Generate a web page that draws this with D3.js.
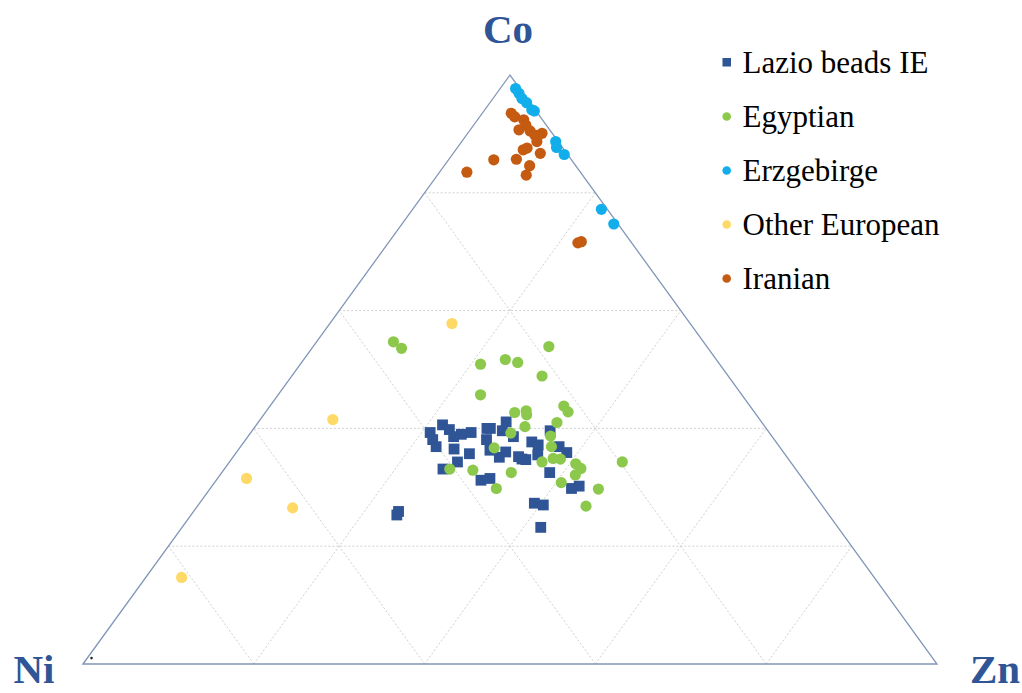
<!DOCTYPE html>
<html>
<head>
<meta charset="utf-8">
<script src="https://cdn.jsdelivr.net/npm/d3@7"></script>
<style>
  html, body { margin: 0; padding: 0; background: #ffffff; }
  svg { display: block; }
</style>
</head>
<body>
<svg id="chart" width="1022" height="693"></svg>
<script>
// ---- Data: ternary compositions in percent (Ni = 100 - Co - Zn) ----
const categories = ["Lazio beads IE", "Egyptian", "Erzgebirge", "Other European", "Iranian"];
const axisLabels = ["Co", "Ni", "Zn"];
const gridTicks = [20, 40, 60, 80];

const lazioCo = [39.3, 38.1, 36.9, 40.6, 39.8, 38.6, 39.0, 39.3, 36.5, 35.7, 34.3, 33.1, 40.0, 40.0, 38.1, 36.3, 41.1, 39.6, 38.6, 36.0, 35.1, 31.2, 31.5, 35.2, 34.8, 34.7, 37.7, 37.2, 35.5, 39.6, 36.9, 35.9, 32.5, 29.8, 30.2, 27.3, 27.0, 23.2, 25.9, 25.3];
const lazioZn = [21.0, 21.9, 22.9, 21.8, 23.0, 24.1, 24.8, 25.8, 25.2, 27.4, 26.7, 25.6, 27.3, 27.7, 28.2, 29.5, 29.0, 29.3, 31.1, 31.5, 31.2, 31.0, 31.9, 33.4, 34.0, 34.5, 33.7, 34.7, 35.5, 34.9, 37.3, 38.7, 38.4, 42.3, 43.0, 39.2, 40.4, 42.0, 24.0, 24.1];

const egyptCo = [54.7, 53.6, 53.9, 50.9, 51.7, 51.2, 48.9, 45.7, 42.7, 43.0, 42.3, 43.8, 42.8, 40.3, 41.0, 39.2, 38.7, 36.7, 36.9, 34.9, 34.8, 34.3, 34.0, 33.2, 32.1, 34.3, 33.1, 32.9, 32.5, 30.8, 29.7, 29.8, 26.8];
const egyptZn = [9.0, 10.5, 27.6, 21.1, 23.6, 25.3, 29.3, 23.7, 29.2, 30.4, 30.8, 34.4, 35.4, 31.6, 35.0, 30.5, 35.4, 29.8, 36.4, 37.6, 38.5, 36.6, 40.7, 41.7, 41.6, 46.0, 26.4, 29.2, 33.9, 40.6, 45.5, 33.5, 45.5];

const erzCo = [97.7, 96.9, 96.0, 95.3, 94.1, 93.9, 88.7, 87.7, 86.5, 77.2, 74.7];
const erzZn = [1.8, 2.6, 3.4, 4.3, 5.5, 5.9, 11.0, 11.6, 13.1, 22.1, 24.8];

const otherCo = [57.8, 41.5, 31.5, 26.5, 14.7];
const otherZn = [14.3, 8.5, 3.4, 11.3, 4.2];

const iranCo = [93.5, 92.9, 92.4, 91.5, 90.7, 90.5, 89.8, 90.1, 88.7, 87.3, 87.6, 86.7, 85.6, 85.7, 84.6, 83.0, 83.5, 71.5, 71.7];
const iranZn = [3.4, 4.1, 5.4, 6.1, 5.7, 7.1, 8.0, 8.7, 8.8, 7.9, 8.2, 10.2, 5.3, 7.9, 10.0, 10.4, 3.2, 22.2, 22.5];

// tiny marker near the Ni corner
const cornerCo = [1.0];
const cornerZn = [0.5];

// ---- Styles ----
const colors = ["#2F5597", "#8CC84B", "#12AEEB", "#FFD966", "#C55A11"];
const labelColor = "#2F5597";

const svg = d3.select("#chart");

// Scales: Co -> vertical, (Zn + Co/2) -> horizontal
const yScale = d3.scaleLinear().domain([0, 100]).range([664, 75]);
const xScale = d3.scaleLinear().domain([0, 100]).range([83, 937]);
const px = (co, zn) => xScale(zn + co / 2);
const py = (co) => yScale(co);

// ---- Grid ----
const grid = svg.append("g");
gridTicks.forEach(t => {
  grid.append("line")
    .attr("x1", px(t, 0)).attr("y1", py(t))
    .attr("x2", px(t, 100 - t)).attr("y2", py(t));
  grid.append("line")
    .attr("x1", px(0, t)).attr("y1", py(0))
    .attr("x2", px(100 - t, t)).attr("y2", py(100 - t));
  grid.append("line")
    .attr("x1", px(0, 100 - t)).attr("y1", py(0))
    .attr("x2", px(100 - t, 0)).attr("y2", py(100 - t));
});
grid.selectAll("line")
  .attr("stroke", "#CFCFCF")
  .attr("stroke-width", 1)
  .attr("stroke-dasharray", "2,2");

// ---- Triangle outline ----
svg.append("path")
  .attr("d", d3.line()([[px(0, 0), py(0)], [px(100, 0), py(100)], [px(0, 100), py(0)]]) + "Z")
  .attr("fill", "none")
  .attr("stroke", "#8296B8")
  .attr("stroke-width", 1.3);

// ---- Points ----
const seriesCo = [lazioCo, egyptCo, erzCo, otherCo, iranCo];
const seriesZn = [lazioZn, egyptZn, erzZn, otherZn, iranZn];
const drawOrder = [3, 4, 2, 0, 1];

drawOrder.forEach(si => {
  const pts = seriesCo[si].map((c, i) => ({ c: c, z: seriesZn[si][i] }));
  const g = svg.append("g");
  if (si === 0) {
    g.selectAll("rect").data(pts).enter().append("rect")
      .attr("x", d => px(d.c, d.z) - 5.4)
      .attr("y", d => py(d.c) - 5.4)
      .attr("width", 10.8).attr("height", 10.8)
      .attr("fill", colors[si]);
  } else {
    g.selectAll("circle").data(pts).enter().append("circle")
      .attr("cx", d => px(d.c, d.z))
      .attr("cy", d => py(d.c))
      .attr("r", 5.6)
      .attr("fill", colors[si]);
  }
});

svg.append("g").selectAll("circle")
  .data(cornerCo.map((c, i) => ({ c: c, z: cornerZn[i] })))
  .enter().append("circle")
  .attr("cx", d => px(d.c, d.z)).attr("cy", d => py(d.c))
  .attr("r", 1.3).attr("fill", "#222");

// ---- Corner labels ----
const labelPos = [[508, 43], [34, 683], [995, 683]];
axisLabels.forEach((t, i) => {
  svg.append("text")
    .attr("x", labelPos[i][0]).attr("y", labelPos[i][1])
    .attr("text-anchor", "middle")
    .attr("font-family", "'Liberation Serif', 'Times New Roman', serif")
    .attr("font-weight", "bold")
    .attr("font-size", 41)
    .attr("fill", labelColor)
    .text(t);
});

// ---- Legend ----
const legend = svg.append("g");
categories.forEach((name, i) => {
  const yb = 73 + i * 54;
  if (i === 0) {
    legend.append("rect")
      .attr("x", 722.5).attr("y", yb - 15).attr("width", 8.5).attr("height", 8.5)
      .attr("fill", colors[i]);
  } else {
    legend.append("circle")
      .attr("cx", 726.7).attr("cy", yb - 10.5).attr("r", 4.3)
      .attr("fill", colors[i]);
  }
  legend.append("text")
    .attr("x", 742.5).attr("y", yb)
    .attr("font-family", "'Liberation Serif', 'Times New Roman', serif")
    .attr("font-size", 31)
    .attr("fill", "#000")
    .text(name);
});
</script>
</body>
</html>
